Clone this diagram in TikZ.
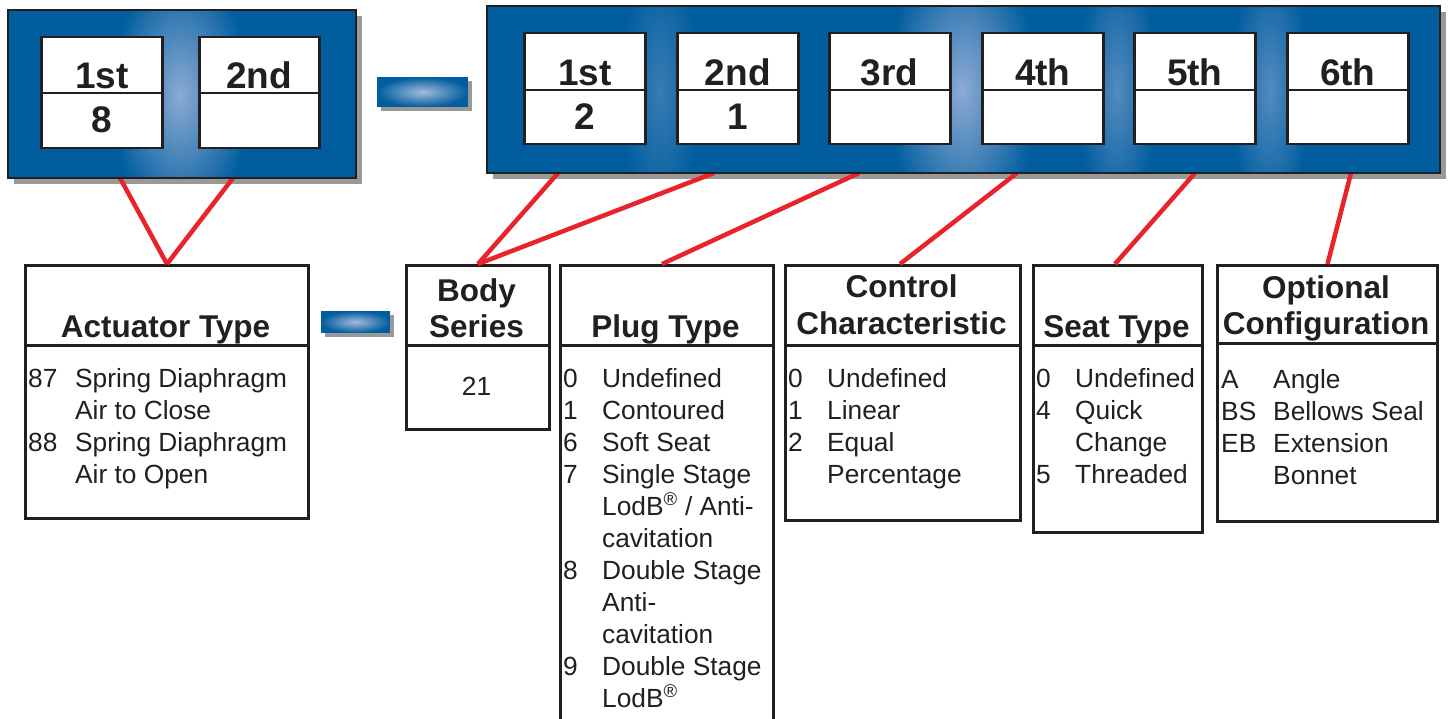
\documentclass[tikz,border=0pt]{standalone}
\usepackage{fontspec}
\setmainfont{Liberation Sans}
\usetikzlibrary{calc}

\definecolor{panelblue}{RGB}{0,93,158}
\definecolor{glowblue}{RGB}{140,170,212}
\definecolor{linered}{RGB}{232,35,42}
\definecolor{inkgray}{RGB}{35,31,32}

\tikzset{
	digitbox/.style={draw=inkgray, fill=white, line width=2.5pt, inner sep=0pt, anchor=north west, minimum width=121pt, minimum height=111pt},
	digitlabel/.style={font=\fontsize{37}{40}\selectfont\bfseries, text=inkgray, anchor=base, inner sep=0pt},
	codebox/.style={draw=inkgray, fill=white, line width=3pt, inner sep=0pt, anchor=north west},
	head/.style={font=\fontsize{31.5}{36}\selectfont\bfseries, text=inkgray, align=center, anchor=base, inner sep=0pt},
	codelist/.style={font=\fontsize{26.3}{32}\selectfont, text=inkgray, anchor=base west, inner sep=0pt},
	redline/.style={draw=linered, line width=4.5pt},
	shadow/.style={fill=black, opacity=.4}
}

\begin{document}
\begin{tikzpicture}[x=1pt, y=-1pt]
	\useasboundingbox (0,0) rectangle (1450,719);
	\clip (0,0) rectangle (1450,719);

	% shadows
	\fill[shadow] (14,16) rectangle (362,184);
	\fill[shadow] (493,12) rectangle (1446,179);
	\fill[shadow] (381,81) rectangle (472,111);
	\fill[shadow] (325,315) rectangle (394,337);

	% connectors
	\coordinate (a1) at (120,178);
	\coordinate (a2) at (233,178);
	\coordinate (b1) at (558,173);
	\coordinate (b2) at (714,173);
	\coordinate (b3) at (859,173);
	\coordinate (b4) at (1017,173);
	\coordinate (b5) at (1195,173);
	\coordinate (b6) at (1351,173);

	% code boxes
	\node[codebox, minimum width=283pt, minimum height=253pt] (act) at (24,264) {};
	\node[codebox, minimum width=143pt, minimum height=164pt] (body) at (405,264) {};
	\node[codebox, minimum width=213pt, minimum height=480pt] (plug) at (559,264) {};
	\node[codebox, minimum width=235pt, minimum height=255pt] (ctrl) at (784,264) {};
	\node[codebox, minimum width=169pt, minimum height=267pt] (seat) at (1032,264) {};
	\node[codebox, minimum width=220pt, minimum height=256pt] (opt) at (1216,264) {};

	\draw[redline] (a1) -- (act.north);
	\draw[redline] (a2) -- (act.north);
	\draw[redline] (b1) -- (body.north);
	\draw[redline] (b2) -- (body.north);
	\draw[redline] (b3) -- ($(plug.north)+(-5,0)$);
	\draw[redline] (b4) -- ($(ctrl.north)+(-3,0)$);
	\draw[redline] (b5) -- ($(seat.north)+(-3,0)$);
	\draw[redline] (b6) -- (opt.north);

	% left panel
	\begin{scope}
		\clip (8,10) rectangle (356,178);
		\fill[panelblue] (8,10) rectangle (356,178);
		\shade[inner color=glowblue, outer color=panelblue] (180,95) ellipse (70 and 130);
	\end{scope}
	\draw[inkgray, line width=2pt] (8,10) rectangle (356,178);

	\node[digitbox] (l1) at (40,36) {};
	\node[digitbox, minimum width=120pt] (l2) at (198,36) {};
	\foreach \n in {l1,l2}
		\draw[inkgray, line width=2.5pt] ($(\n.north west)+(0,57)$) -- ($(\n.north east)+(0,57)$);
	\node[digitlabel] (ll1) at ($(l1.north)+(0,53)$) {1st};
	\node[digitlabel] (lv1) at ($(l1.north)+(0,97)$) {8};
	\node[digitlabel] (ll2) at ($(l2.north)+(0,53)$) {2nd};

	% dashes
	\begin{scope}
		\clip (377,77) rectangle (468,107);
		\fill[panelblue] (377,77) rectangle (468,107);
		\shade[inner color=glowblue!80!white, outer color=panelblue] (422.5,92) ellipse (46 and 15);
	\end{scope}
	\begin{scope}
		\clip (321,311) rectangle (390,333);
		\fill[panelblue] (321,311) rectangle (390,333);
		\shade[inner color=glowblue!80!white, outer color=panelblue] (355.5,322) ellipse (35 and 11);
	\end{scope}

	% right panel
	\begin{scope}
		\clip (487,6) rectangle (1440,173);
		\fill[panelblue] (487,6) rectangle (1440,173);
		\shade[inner color=glowblue!40!panelblue, outer color=panelblue] (660,90) ellipse (40 and 130);
		\shade[inner color=glowblue, outer color=panelblue] (962,90) ellipse (75 and 150);
		\shade[inner color=glowblue!60!panelblue, outer color=panelblue] (1117,90) ellipse (40 and 130);
		\shade[inner color=glowblue!60!panelblue, outer color=panelblue] (1270,90) ellipse (40 and 130);
	\end{scope}
	\draw[inkgray, line width=2pt] (487,6) rectangle (1440,173);

	\foreach \x/\lab/\val [count=\i] in {523/1st/2, 676/2nd/1, 828/3rd/{}, 981/4th/{}, 1133/5th/{}, 1286/6th/{}} {
		\node[digitbox] (r\i) at (\x,32) {};
		\draw[inkgray, line width=2.5pt] ($(r\i.north west)+(0,58)$) -- ($(r\i.north east)+(0,58)$);
		\node[digitlabel] (rl\i) at ($(r\i.north)+(0,54)$) {\lab};
		\node[digitlabel] (rv\i) at ($(r\i.north)+(0,98)$) {\val};
	}

	% headers
	\foreach \n in {act,body,plug,ctrl,seat}
		\draw[inkgray, line width=3pt] ($(\n.north west)+(0,81)$) -- ($(\n.north east)+(0,81)$);
	\draw[inkgray, line width=3pt] ($(opt.north west)+(0,79)$) -- ($(opt.north east)+(0,79)$);

	\node[head] (acth) at (165.5,337.5) {Actuator Type};
	\node[head] (bodyh) at (476.5,337) {Body\\Series};
	\node[head] (plugh) at (665.5,337.5) {Plug Type};
	\node[head] (ctrlh) at (901.5,334) {Control\\Characteristic};
	\node[head] (seath) at (1116.5,337.5) {Seat Type};
	\node[head] (opth) at (1326,334.5) {Optional\\Configuration};

	% code lists
	\node[codelist] (actl) at (28,387) {\begin{tabular}[t]{@{}p{47pt}@{}l@{}}
		87 & Spring Diaphragm\\ & Air to Close\\ 88 & Spring Diaphragm\\ & Air to Open
	\end{tabular}};
	\node[codelist, anchor=base] (bodyl) at (476.5,395) {21};
	\node[codelist] (plugl) at (563,387) {\begin{tabular}[t]{@{}p{39pt}@{}l@{}}
		0 & Undefined\\ 1 & Contoured\\ 6 & Soft Seat\\ 7 & Single Stage\\
		& LodB\textsuperscript{®} / Anti-\\ & cavitation\\ 8 & Double Stage\\
		& Anti-\\ & cavitation\\ 9 & Double Stage\\ & LodB\textsuperscript{®}
	\end{tabular}};
	\node[codelist] (ctrll) at (788,387) {\begin{tabular}[t]{@{}p{39pt}@{}l@{}}
		0 & Undefined\\ 1 & Linear\\ 2 & Equal\\ & Percentage
	\end{tabular}};
	\node[codelist] (seatl) at (1036,387) {\begin{tabular}[t]{@{}p{39pt}@{}l@{}}
		0 & Undefined\\ 4 & Quick\\ & Change\\ 5 & Threaded
	\end{tabular}};
	\node[codelist] (optl) at (1221,388) {\begin{tabular}[t]{@{}p{52pt}@{}l@{}}
		A & Angle\\ BS & Bellows Seal\\ EB & Extension\\ & Bonnet
	\end{tabular}};
\end{tikzpicture}
\end{document}
